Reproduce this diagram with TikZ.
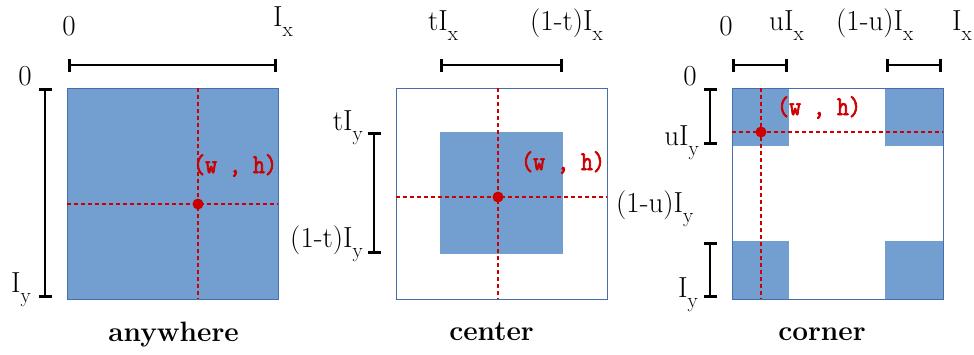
\documentclass[tikz,border=0pt]{standalone}
\usepackage{fontspec}
\newfontfamily\whfont[FakeBold=2.5,FakeStretch=0.86]{Latin Modern Mono}
\usetikzlibrary{arrows.meta}
\definecolor{boxfill}{RGB}{115,159,208}
\definecolor{boxline}{RGB}{70,110,175}
\definecolor{ptred}{RGB}{204,0,0}
\newcommand\lsub[1]{\raisebox{-10pt}{\fontsize{21}{21}\selectfont #1}}
\begin{document}
\begin{tikzpicture}[x=1pt,y=-1pt,
  lab/.style={inner sep=0, font=\fontsize{29}{31}\selectfont},
  ttl/.style={anchor=base, inner sep=0, font=\fontsize{28}{30}\selectfont\bfseries},
  wh/.style={anchor=base west, inner sep=0, text=ptred, font=\fontsize{27}{29}\selectfont\whfont},
  region/.style={inner sep=0, outer sep=0, line width=1pt},
  dimbar/.style={line width=2.6pt, {Bar[width=13pt]}-{Bar[width=13pt]}},
  reddash/.style={draw=ptred, line width=1.8pt, dash pattern=on 4pt off 3pt},
  ptdot/.style={circle, fill=ptred, inner sep=0, minimum size=11pt}]
\useasboundingbox (0,0) rectangle (974,354);

% ---------- panel 1: anywhere ----------
\node[region, draw=boxline, fill=boxfill, minimum width=211, minimum height=211] (sq1) at (172.5,193.5) {};
\coordinate (p1) at (198,204);
\draw[reddash] (p1 |- sq1.north) -- (p1 |- sq1.south);
\draw[reddash] (p1 -| sq1.west) -- (p1 -| sq1.east);
\node[ptdot] (d1) at (p1) {};
\node[wh] (wh1) at (193,173) {(w , h)};
\coordinate (t1a) at (68,65); \coordinate (t1b) at (277,65);
\draw[dimbar] (t1a) -- (t1b);
\coordinate (l1a) at (45,88); \coordinate (l1b) at (45,298);
\draw[dimbar] (l1a) -- (l1b);
\node[lab, anchor=base] (x1a) at (69,35) {0};
\node[lab, anchor=base west] (x1b) at (273,26) {I\lsub{x}};
\node[lab, anchor=base] (y1a) at (25,85) {0};
\node[lab, anchor=base east] (y1b) at (31,292) {I\lsub{y}};
\node[ttl] (n1) at (173.5,341) {anywhere};

% ---------- panel 2: center ----------
\node[region, draw=boxline, fill=white, minimum width=211, minimum height=211] (sq2) at (501.5,193.5) {};
\node[region, fill=boxfill, minimum width=123, minimum height=122] (in2) at (501.5,193) {};
\coordinate (p2) at (498,197);
\draw[reddash] (p2 |- sq2.north) -- (p2 |- sq2.south);
\draw[reddash] (p2 -| sq2.west) -- (p2 -| sq2.east);
\node[ptdot] (d2) at (p2) {};
\node[wh] (wh2) at (521,170) {(w , h)};
\coordinate (t2a) at (440,65); \coordinate (t2b) at (563,65);
\draw[dimbar] (t2a) -- (t2b);
\coordinate (l2a) at (374,132); \coordinate (l2b) at (374,254);
\draw[dimbar] (l2a) -- (l2b);
\node[lab, anchor=base west] (x2a) at (428,30) {tI\lsub{x}};
\node[lab, anchor=base west] (x2b) at (530,30) {(1-t)I\lsub{x}};
\node[lab, anchor=base east] (y2a) at (363,130) {tI\lsub{y}};
\node[lab, anchor=base east] (y2b) at (363,247) {(1-t)I\lsub{y}};
\node[ttl] (n2) at (491.5,340) {center};

% ---------- panel 3: corner ----------
\node[region, fill=boxfill, minimum width=57, minimum height=58] (c3a) at (760.5,117) {};
\node[region, fill=boxfill, minimum width=58, minimum height=58] (c3b) at (914,117) {};
\node[region, fill=boxfill, minimum width=57, minimum height=58] (c3c) at (760.5,270) {};
\node[region, fill=boxfill, minimum width=58, minimum height=58] (c3d) at (914,270) {};
\node[region, draw=boxline, minimum width=211, minimum height=211] (sq3) at (837.5,193.5) {};
\coordinate (p3) at (761,132);
\draw[reddash] (p3 |- sq3.north) -- (p3 |- sq3.south);
\draw[reddash] (p3 -| sq3.west) -- (p3 -| sq3.east);
\node[ptdot] (d3) at (p3) {};
\node[wh] (wh3) at (777,115) {(w , h)};
\coordinate (t3a) at (732,65); \coordinate (t3b) at (788,65);
\draw[dimbar] (t3a) -- (t3b);
\coordinate (t3c) at (886,65); \coordinate (t3d) at (942,65);
\draw[dimbar] (t3c) -- (t3d);
\coordinate (l3a) at (710,88); \coordinate (l3b) at (710,145);
\draw[dimbar] (l3a) -- (l3b);
\coordinate (l3c) at (710,242); \coordinate (l3d) at (710,298);
\draw[dimbar] (l3c) -- (l3d);
\node[lab, anchor=base] (x3a) at (726,35) {0};
\node[lab, anchor=base west] (x3b) at (769,30) {uI\lsub{x}};
\node[lab, anchor=base west] (x3c) at (836,30) {(1-u)I\lsub{x}};
\node[lab, anchor=base west] (x3d) at (952,30) {I\lsub{x}};
\node[lab, anchor=base] (y3a) at (690,85) {0};
\node[lab, anchor=base east] (y3b) at (699,145) {uI\lsub{y}};
\node[lab, anchor=base west] (y3c) at (616,212) {(1-u)I\lsub{y}};
\node[lab, anchor=base east] (y3d) at (698,297) {I\lsub{y}};
\node[ttl] (n3) at (822,340) {corner};
\end{tikzpicture}
\end{document}
